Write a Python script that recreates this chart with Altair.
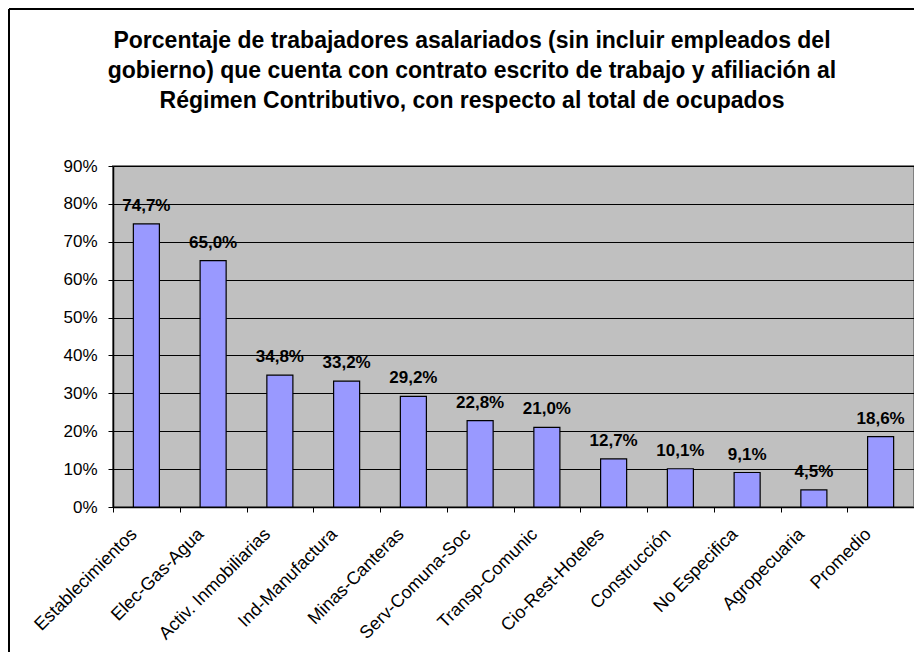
import altair as alt
import pandas as pd

categories = ["Establecimientos", "Elec-Gas-Agua", "Activ. Inmobiliarias", "Ind-Manufactura",
              "Minas-Canteras", "Serv-Comuna-Soc", "Transp-Comunic", "Cio-Rest-Hoteles",
              "Construcción", "No Especifica", "Agropecuaria", "Promedio"]
values = [74.7, 65.0, 34.8, 33.2, 29.2, 22.8, 21.0, 12.7, 10.1, 9.1, 4.5, 18.6]
y_ticks = [0, 10, 20, 30, 40, 50, 60, 70, 80, 90]
title_lines = ["Porcentaje de trabajadores asalariados (sin incluir empleados del",
               "gobierno) que cuenta con contrato escrito de trabajo y afiliación al",
               "Régimen Contributivo, con respecto al total de ocupados"]

df = pd.DataFrame({
    "cat": categories,
    "val": values,
    "label": [f"{v:.1f}".replace(".", ",") + "%" for v in values],
})
one = pd.DataFrame({"k": [0]})

FONT = "Liberation Sans"
W, H = 801, 341
PL, PT = 105, 158

x = alt.X("cat:N", sort=categories, title=None,
          scale=alt.Scale(paddingInner=0, paddingOuter=0),
          axis=alt.Axis(labelAngle=-45, labelFontSize=18, labelFont=FONT, labelColor="black",
                        labelAlign="right", labelBaseline="top", labelOffset=-19,
                        tickBand="extent", tickColor="black", tickSize=5,
                        domainColor="black", domainWidth=1.5, labelPadding=13,
                        grid=False, labelOverlap=False))
y = alt.Y("val:Q", title=None,
          scale=alt.Scale(domain=[0, 90], nice=False),
          axis=alt.Axis(values=y_ticks, tickCount=10, labelExpr="datum.value + '%'", labelFontSize=17,
                        labelFont=FONT, labelColor="black", tickColor="black", tickSize=5,
                        labelPadding=11, domainColor="black", domainWidth=1.5, labelOverlap=False,
                        grid=True, gridColor="black", gridWidth=1, gridOpacity=1))

bars = alt.Chart(df).mark_bar(
    width=alt.RelativeBandSize(0.39), color="#9999FF", stroke="black", strokeWidth=1.2
).encode(x=x, y=y)

labels = alt.Chart(df).mark_text(
    dy=-13, baseline="alphabetic", fontSize=17, fontWeight="bold", font=FONT, color="black"
).encode(x=x, y=y, text="label:N")

title = alt.Chart(one).mark_text(
    text=title_lines, fontSize=23, fontWeight="bold", font=FONT, color="black",
    align="center", baseline="alphabetic", lineHeight=30
).encode(x=alt.value(472 - 113), y=alt.value(48 - 166))

border_top = alt.Chart(one).mark_rule(color="black", strokeWidth=2).encode(
    x=alt.value(-PL + 1), x2=alt.value(W + 10), y=alt.value(-PT + 1))
border_left = alt.Chart(one).mark_rule(color="black", strokeWidth=2).encode(
    x=alt.value(-PL + 1), y=alt.value(-PT + 1), y2=alt.value(H + 200))

chart = alt.layer(bars, labels, title, border_top, border_left).properties(
    width=W, height=H,
    autosize=alt.AutoSizeParams(type="none"),
    padding={"left": PL, "top": PT, "right": 0, "bottom": 145},
).configure_view(fill="#C0C0C0", stroke="#808080", strokeWidth=2
).configure_axis(labelFont=FONT)

chart.save("out.html", embed_options={"renderer": "svg", "actions": False})
